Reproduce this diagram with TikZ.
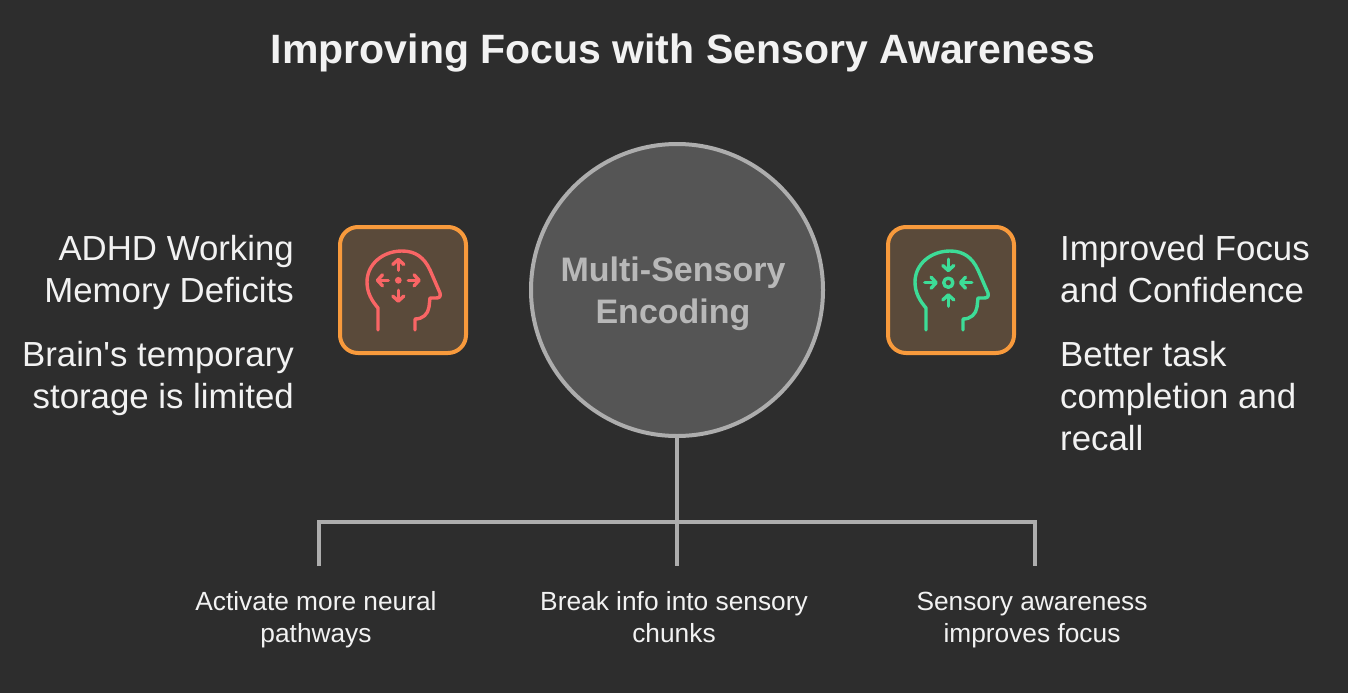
\documentclass[tikz,border=0pt]{standalone}
\usepackage{fontspec}
\setmainfont{Liberation Sans}
\usetikzlibrary{arrows.meta,positioning}
\definecolor{bgdark}{HTML}{2D2D2D}
\definecolor{hubfill}{HTML}{555555}
\definecolor{hubline}{HTML}{ADADAD}
\definecolor{hubtext}{HTML}{B8B8B8}
\definecolor{boxfill}{HTML}{5A4A3A}
\definecolor{boxline}{HTML}{F89A3C}
\definecolor{iconred}{HTML}{F96565}
\definecolor{icongreen}{HTML}{3DDC97}
\definecolor{textlight}{HTML}{F2F2F2}
\tikzset{
  sidetext/.style={text=textlight, inner sep=0pt, font=\fontsize{34.8}{42}\selectfont},
  smalltext/.style={text=textlight, inner sep=0pt, align=center, anchor=north, font=\fontsize{26.3}{32}\selectfont},
  iconbox/.style={draw=boxline, fill=boxfill, line width=4pt, rounded corners=18pt,
    minimum width=126pt, minimum height=126pt, inner sep=0pt},
  branch/.style={draw=hubline, line width=3.5pt},
  iconline/.style={line width=3.4pt, line cap=round, line join=round},
  iconarrow/.style={iconline, -{Straight Barb[length=5pt,width=11pt,round]}},
  pics/headicon/.style={code={
    \draw[iconline] (-25,40) -- (-25,18) .. controls (-31,11) and (-36,3) .. (-36,-8)
      .. controls (-36,-26) and (-20,-39) .. (-1,-39)
      .. controls (12,-39) and (21,-33) .. (27,-20)
      -- (37,3) .. controls (38,7) and (36,8) .. (33,8) -- (27,8)
      -- (26,17) .. controls (25,24) and (20,29) .. (12,29) -- (12,40);
  }},
  pics/spreadarrows/.style={code={
    \fill (0,0) circle (3.4pt);
    \foreach \a in {0,90,180,270} {
      \draw[iconarrow] (\a:10) -- (\a:22.5);
    }
  }},
  pics/focusarrows/.style={code={
    \draw[iconline] (0,0) circle (4.6pt);
    \foreach \a in {0,90,180,270} {
      \draw[iconarrow] (\a:23.5) -- (\a:10.5);
    }
  }},
}
\begin{document}
\begin{tikzpicture}[x=1pt, y=-1pt]
  \useasboundingbox[fill=bgdark] (0,0) rectangle (1348,693);
  \node[text=textlight, inner sep=0pt, font=\bfseries\fontsize{41}{50}\selectfont] (title) at (683,53)
    {Improving Focus with Sensory Awareness};

  % centre and the two icon boxes
  \node[circle, draw=hubline, fill=hubfill, line width=4pt, minimum size=292pt, inner sep=0pt] (hub) at (677,290) {};
  \node[text=hubtext, inner sep=0pt, align=center, font=\bfseries\fontsize{34}{42}\selectfont] (hublabel) at (673,294)
    {Multi-Sensory\\Encoding};
  \node[iconbox] (leftbox) at (403,290) {};
  \node[iconbox] (rightbox) at (951,290) {};
  \pic[color=iconred] at (403,290) {headicon};
  \pic[color=iconred] at (398.3,280.3) {spreadarrows};
  \pic[color=icongreen] at (951,290) {headicon};
  \pic[color=icongreen] at (948.3,282.7) {focusarrows};

  % side texts
  \node[sidetext, align=right, anchor=north east] (lefttop) at (294,235)
    {ADHD Working\\Memory Deficits};
  \node[sidetext, align=right, anchor=north east] (leftlow) at (294,341)
    {Brain\textquotesingle s temporary\\storage is limited};
  \node[sidetext, align=left, anchor=north west] (righttop) at (1060,235)
    {Improved Focus\\and Confidence};
  \node[sidetext, align=left, anchor=north west] (rightlow) at (1060,341)
    {Better task\\completion and\\recall};

  % branches below the circle
  \coordinate (split) at (677,522);
  \coordinate (barleft) at (319,522);
  \coordinate (barright) at (1035,522);
  \coordinate (endleft) at (319,566);
  \coordinate (endmid) at (677,566);
  \coordinate (endright) at (1035,566);
  \draw[branch] (hub.south) -- (split);
  \draw[branch] (endleft) -- (barleft) -- (barright) -- (endright);
  \draw[branch] (split) -- (endmid);

  \node[smalltext] (textleft) at (316,591) {Activate more neural\\pathways};
  \node[smalltext] (textmid) at (674,591) {Break info into sensory\\chunks};
  \node[smalltext] (textright) at (1032,592) {Sensory awareness\\improves focus};
\end{tikzpicture}
\end{document}
